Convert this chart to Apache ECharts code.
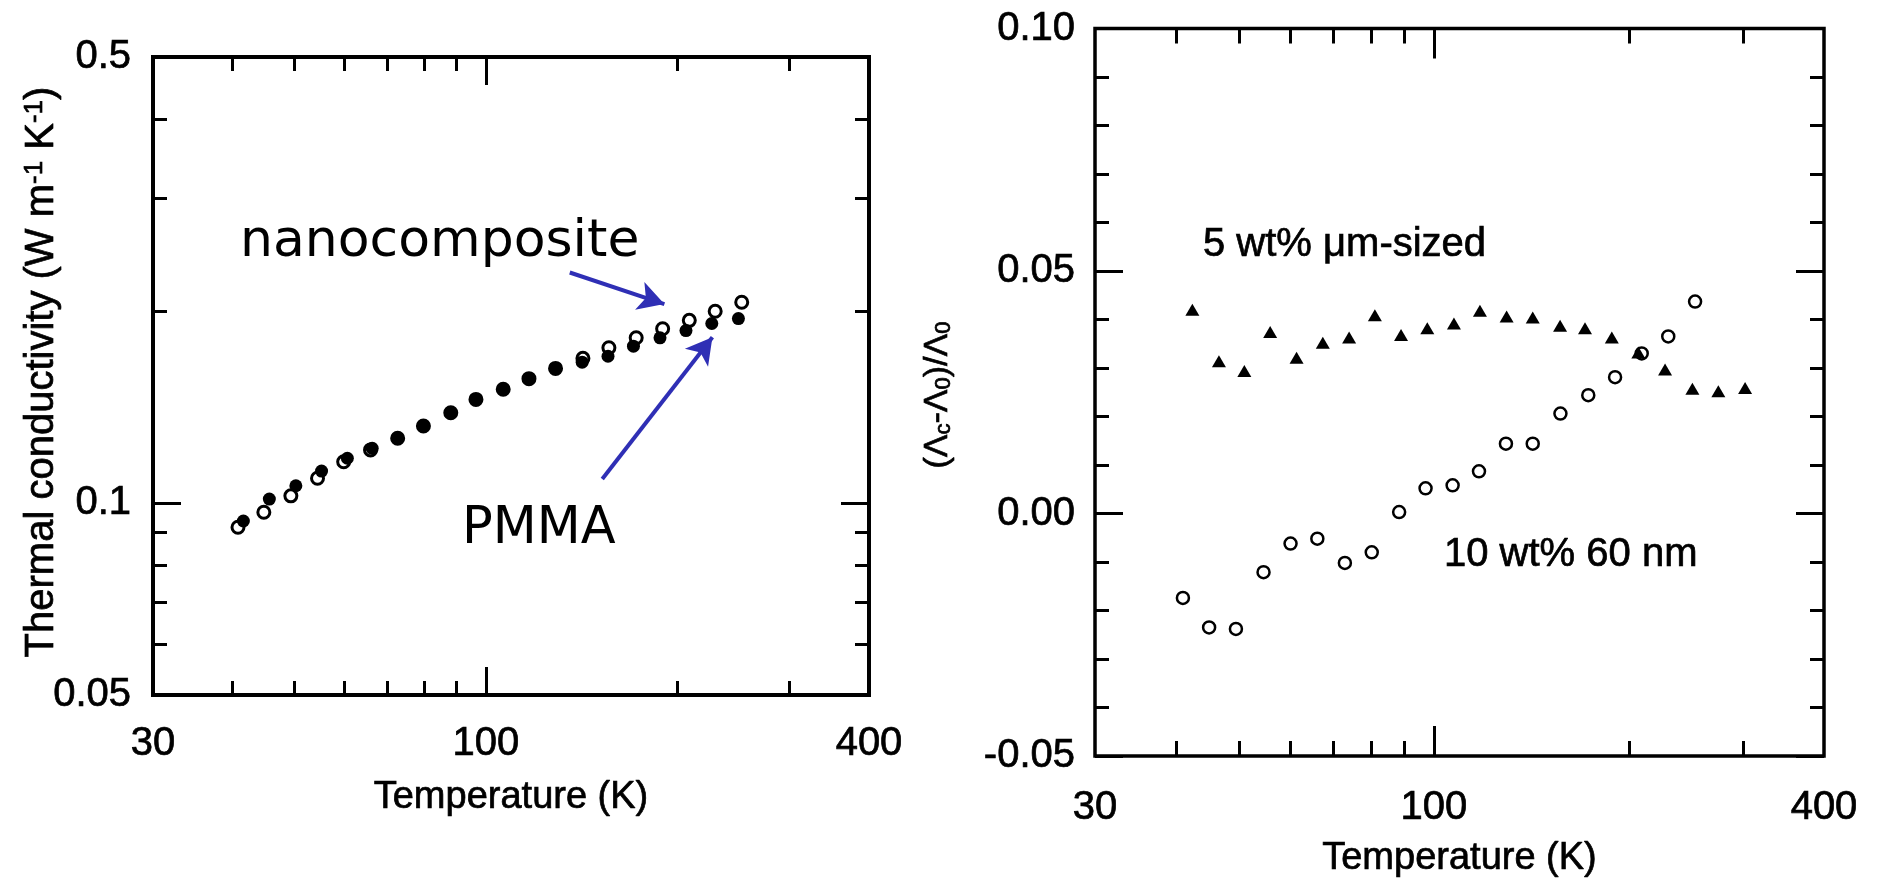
<!DOCTYPE html>
<html>
<head>
<meta charset="utf-8">
<script src="https://cdn.jsdelivr.net/npm/echarts@6/dist/echarts.min.js"></script>
<style>
html,body{margin:0;padding:0;background:#fff;}
#chart{width:1877px;height:880px;}
</style>
</head>
<body>
<div id="chart"></div>
<script>
// ---------- Data (left panel: thermal conductivity) ----------
const tempNano = [40.8, 44.8, 49.4, 54.4, 59.8, 65.9, 72.7, 79.8, 88.1, 96.5, 106.5, 116.9, 128.7, 142.1, 156.1, 172.3, 189.6, 208.8, 229.3, 252.4];
const kNano    = [0.0916, 0.0967, 0.1026, 0.1093, 0.1160, 0.1211, 0.1263, 0.1320, 0.1385, 0.1453, 0.1507, 0.1566, 0.1625, 0.1685, 0.1751, 0.1815, 0.1875, 0.1933, 0.1997, 0.2063];
const tempPmma = [41.6, 45.7, 50.3, 55.2, 60.6, 66.3, 72.7, 79.8, 88.1, 96.5, 106.5, 116.9, 128.7, 141.7, 155.6, 170.6, 187.8, 206.3, 226.5, 249.4];
const kPmma    = [0.0937, 0.1014, 0.1064, 0.1122, 0.1175, 0.1218, 0.1263, 0.1320, 0.1385, 0.1453, 0.1507, 0.1566, 0.1625, 0.1662, 0.1698, 0.1761, 0.1815, 0.1863, 0.1911, 0.1945];

// ---------- Data (right panel: relative change) ----------
const tempMicro = [42.4, 46.6, 51.0, 55.9, 61.4, 67.4, 74.0, 81.1, 89.0, 97.7, 107.4, 117.8, 129.5, 142.1, 156.6, 171.1, 188.2, 206.8, 227.4, 250.6, 274.8, 302.2];
const relMicro  = [0.0420, 0.0314, 0.0294, 0.0374, 0.0321, 0.0352, 0.0363, 0.0409, 0.0368, 0.0382, 0.0392, 0.0418, 0.0406, 0.0404, 0.0387, 0.0382, 0.0363, 0.0332, 0.0297, 0.0257, 0.0252, 0.0259];
const tempNano60 = [41.0, 45.0, 49.5, 54.6, 60.1, 66.1, 72.9, 80.2, 88.4, 97.1, 106.9, 117.4, 129.2, 142.1, 156.8, 173.1, 190.4, 209.3, 230.0, 253.0];
const relNano60  = [-0.0174, -0.0235, -0.0238, -0.0121, -0.0062, -0.0052, -0.0102, -0.0080, 0.0003, 0.0052, 0.0058, 0.0087, 0.0144, 0.0144, 0.0206, 0.0244, 0.0281, 0.0330, 0.0365, 0.0437];

// ---------- Ticks ----------
const tempRange = [30, 400];
const tempLabels = [30, 100, 400];
const tempMajor = [100];
const tempMinor = [40, 50, 60, 70, 80, 90, 200, 300];
const kRange = [0.05, 0.5];
const kLabels = [0.05, 0.1, 0.5];
const kMajor = [0.1];
const kMinor = [0.06, 0.07, 0.08, 0.09, 0.2, 0.3, 0.4];
const relRange = [-0.05, 0.10];
const relInterval = 0.05;

// ---------- Annotation anchors (data space) ----------
const arrowNano = [[135.5, 0.2297], [190.8, 0.205]];
const arrowPmma = [[152.4, 0.1090], [227.0, 0.1819]];

const FONT = "'Liberation Sans', Arial, Helvetica, sans-serif";
const HEAVY = { textBorderColor: '#000', textBorderWidth: 0.7 };
const GHEAVY = { stroke: '#000', lineWidth: 0.7 };
const zip = (a, b) => a.map((v, i) => [v, b[i]]);

function logAxis(opts) {
  const o = {
    type: 'log', logBase: 10, gridIndex: opts.grid, position: opts.position,
    min: opts.range[0], max: opts.range[1],
    axisLine: { show: false, onZero: false },
    splitLine: { show: false },
    minorTick: { show: false },
    axisTick: { show: true, inside: true, length: opts.len, customValues: opts.ticks,
      lineStyle: { color: '#000', width: 3 } },
    axisLabel: { show: false }
  };
  if (opts.labels) {
    o.axisLabel = Object.assign({ show: true, customValues: opts.labels, fontSize: 40, color: '#000',
      fontFamily: FONT, margin: opts.margin, formatter: opts.fmt }, HEAVY);
  }
  return o;
}
const fmtT = v => String(Math.round(v));
const fmtK = v => String(parseFloat(Number(v).toPrecision(2)));

const xAxes = [
  // left grid
  logAxis({grid:0, position:'bottom', range:tempRange, ticks:tempMajor, len:28, labels:tempLabels, margin:29, fmt:fmtT}),
  logAxis({grid:0, position:'bottom', range:tempRange, ticks:tempMinor, len:14}),
  logAxis({grid:0, position:'top', range:tempRange, ticks:tempMajor, len:28}),
  logAxis({grid:0, position:'top', range:tempRange, ticks:tempMinor, len:14}),
  // right grid
  logAxis({grid:1, position:'bottom', range:tempRange, ticks:tempMajor, len:30, labels:tempLabels, margin:32, fmt:fmtT}),
  logAxis({grid:1, position:'bottom', range:tempRange, ticks:tempMinor, len:15}),
  logAxis({grid:1, position:'top', range:tempRange, ticks:tempMajor, len:30}),
  logAxis({grid:1, position:'top', range:tempRange, ticks:tempMinor, len:15})
];
xAxes[0].name = 'Temperature (K)';
xAxes[4].name = 'Temperature (K)';
[0, 4].forEach(i => {
  xAxes[i].nameLocation = 'middle';
  xAxes[i].nameGap = 84;
  xAxes[i].nameTextStyle = Object.assign({ fontSize: 38, color: '#000', fontFamily: FONT }, HEAVY);
});

function relAxis(position, labels) {
  return {
    type: 'value', gridIndex: 1, position: position,
    min: relRange[0], max: relRange[1], interval: relInterval,
    axisLine: { show: false, onZero: false }, splitLine: { show: false },
    axisTick: { show: true, inside: true, length: 28, lineStyle: { color: '#000', width: 3 } },
    minorTick: { show: true, splitNumber: 5, length: 14, lineStyle: { color: '#000', width: 3 } },
    axisLabel: labels ? Object.assign({ show: true, fontSize: 40, color: '#000', fontFamily: FONT, margin: 20,
      formatter: v => (Math.abs(v) < 1e-9 ? 0 : v).toFixed(2) }, HEAVY) : { show: false }
  };
}

const yAxes = [
  logAxis({grid:0, position:'left', range:kRange, ticks:kMajor, len:28, labels:kLabels, margin:22, fmt:fmtK}),
  logAxis({grid:0, position:'left', range:kRange, ticks:kMinor, len:14}),
  logAxis({grid:0, position:'right', range:kRange, ticks:kMajor, len:28}),
  logAxis({grid:0, position:'right', range:kRange, ticks:kMinor, len:14}),
  relAxis('left', true),
  relAxis('right', false)
];

const BLUE = '#2f2fb5';
const arrowLine = (pair) => [{ coord: pair[0] }, { coord: pair[1] }];

const option = {
  animation: false,
  backgroundColor: '#fff',
  grid: [
    { left: 153, top: 57, width: 716, height: 638, show: true, borderColor: '#000', borderWidth: 4,
      backgroundColor: 'transparent', outerBoundsMode: 'none', containLabel: false },
    { left: 1095, top: 28.5, width: 729, height: 727.5, show: true, borderColor: '#000', borderWidth: 3.5,
      backgroundColor: 'transparent', outerBoundsMode: 'none', containLabel: false }
  ],
  xAxis: xAxes,
  yAxis: yAxes,
  series: [
    {
      name: 'nanocomposite', type: 'scatter', xAxisIndex: 0, yAxisIndex: 0,
      data: zip(tempNano, kNano), symbol: 'circle', symbolSize: 12,
      itemStyle: { color: '#fff', borderColor: '#000', borderWidth: 3, opacity: 1 }, z: 3,
      markLine: {
        silent: true, symbol: ['none', 'arrow'], symbolSize: [22, 26],
        lineStyle: { color: BLUE, width: 4, type: 'solid', opacity: 1 }, label: { show: false },
        data: [arrowLine(arrowNano), arrowLine(arrowPmma)]
      }
    },
    {
      name: 'PMMA', type: 'scatter', xAxisIndex: 0, yAxisIndex: 0,
      data: zip(tempPmma, kPmma), symbol: 'circle', symbolSize: 13,
      itemStyle: { color: '#000', opacity: 1 }, z: 4
    },
    {
      name: '5 wt% μm-sized', type: 'scatter', xAxisIndex: 4, yAxisIndex: 4,
      data: zip(tempMicro, relMicro), symbol: 'triangle', symbolSize: [14, 12],
      itemStyle: { color: '#000', opacity: 1 }, z: 4
    },
    {
      name: '10 wt% 60 nm', type: 'scatter', xAxisIndex: 4, yAxisIndex: 4,
      data: zip(tempNano60, relNano60), symbol: 'circle', symbolSize: 12,
      itemStyle: { color: '#fff', borderColor: '#000', borderWidth: 2.5, opacity: 1 }, z: 3
    }
  ],
  graphic: [
    { type: 'text', x: 42, y: 372, rotation: Math.PI / 2,
      style: Object.assign({ text: 'Thermal conductivity (W m{sup|-1} K{sup|-1})', fontSize: 40, fontFamily: FONT, fill: '#000',
        align: 'center', verticalAlign: 'middle',
        rich: { sup: { fontSize: 26, verticalAlign: 'top', lineHeight: 22, fontFamily: FONT } } }, GHEAVY) },
    { type: 'text', x: 938, y: 395, rotation: Math.PI / 2,
      style: Object.assign({ text: '(Λ{sub|c}-Λ{sub|0})/Λ{sub|0}', fontSize: 34, fontFamily: FONT, fill: '#000',
        align: 'center', verticalAlign: 'middle',
        rich: { sub: { fontSize: 22, verticalAlign: 'bottom', lineHeight: 22, fontFamily: FONT } } }, GHEAVY) },
    { type: 'text', x: 240, y: 242,
      style: { text: 'nanocomposite', fontSize: 52, fontFamily: "'DejaVu Sans', sans-serif", fill: '#000',
        align: 'left', verticalAlign: 'middle' } },
    { type: 'text', x: 462, y: 530,
      style: { text: 'PMMA', fontSize: 51, fontFamily: "'DejaVu Sans', sans-serif", fill: '#000',
        align: 'left', verticalAlign: 'middle' } },
    { type: 'text', x: 1203, y: 245,
      style: Object.assign({ text: '5 wt% μm-sized', fontSize: 40, fontFamily: FONT, fill: '#000',
        align: 'left', verticalAlign: 'middle' }, GHEAVY) },
    { type: 'text', x: 1444, y: 555,
      style: Object.assign({ text: '10 wt% 60 nm', fontSize: 40, fontFamily: FONT, fill: '#000',
        align: 'left', verticalAlign: 'middle' }, GHEAVY) }
  ]
};

const chart = echarts.init(document.getElementById('chart'), null, { renderer: 'canvas' });
chart.setOption(option);
</script>
</body>
</html>
